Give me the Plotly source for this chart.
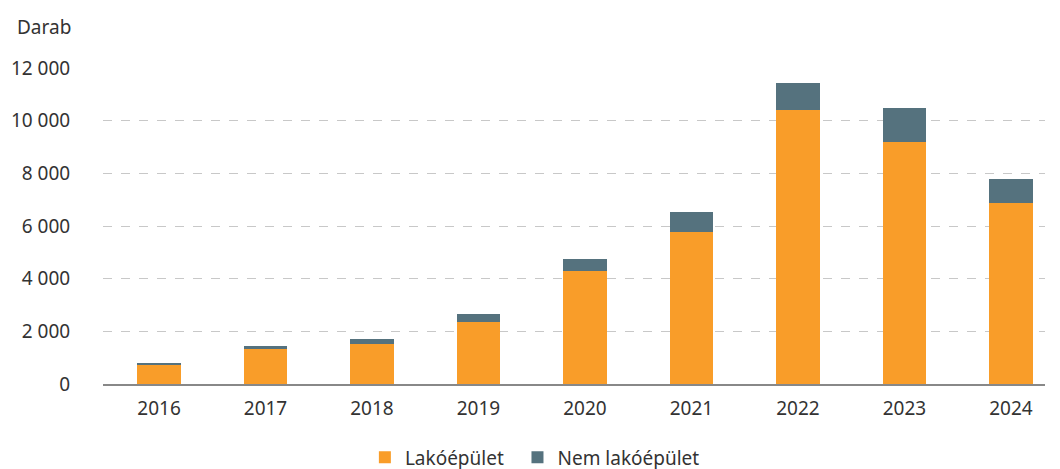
import plotly.graph_objects as go

years = ["2016", "2017", "2018", "2019", "2020", "2021", "2022", "2023", "2024"]
lakoepulet = [710, 1340, 1530, 2360, 4290, 5770, 10400, 9200, 6890]
nem_lakoepulet = [90, 100, 170, 300, 470, 760, 1020, 1270, 900]
y_ticks = [0, 2000, 4000, 6000, 8000, 10000, 12000]
y_ticktext = ["0", "2 000", "4 000", "6 000", "8 000", "10 000", "12 000"]

ORANGE = "#F99D29"
SLATE = "#55727E"
FONT = "Noto Sans"
TXT = "#333333"

# page body has an 8px default margin, so margins are offset accordingly
fig = go.Figure()
fig.add_trace(go.Bar(x=years, y=lakoepulet, name="Lakóépület", legend="legend",
                     marker=dict(color=ORANGE, line=dict(width=0)), width=0.41))
fig.add_trace(go.Bar(x=years, y=nem_lakoepulet, name="Nem lakóépület", legend="legend2",
                     marker=dict(color=SLATE, line=dict(width=0)), width=0.41))

leg_common = dict(orientation="h", y=-0.232, yanchor="middle", xanchor="left",
                  font=dict(size=19, color=TXT), bgcolor="rgba(0,0,0,0)")

fig.update_layout(
    barmode="stack",
    width=1060, height=469,
    margin=dict(l=95, r=23, t=60, b=93, autoexpand=False),
    paper_bgcolor="white", plot_bgcolor="white",
    font=dict(family=FONT, size=19, color=TXT),
    showlegend=True,
    legend=dict(x=0.278, **leg_common),
    legend2=dict(x=0.440, **leg_common),
    xaxis=dict(type="category", range=[-0.526, 8.32], showline=True, linecolor="#888888",
               linewidth=2, ticks="outside", ticklen=6, tickcolor="rgba(0,0,0,0)",
               showgrid=False, automargin=False, tickfont=dict(size=19, color=TXT)),
    yaxis=dict(range=[0, 12000], tickvals=y_ticks, ticktext=y_ticktext,
               showgrid=True, gridcolor="#C8C8C8", griddash="dash", gridwidth=1,
               zeroline=False, showline=False, ticks="outside", ticklen=28,
               tickcolor="rgba(0,0,0,0)", automargin=False,
               tickfont=dict(size=19, color=TXT)),
    annotations=[dict(text="Darab", xref="paper", yref="paper", x=(7 - 95) / 942, y=1 + 41 / 316,
                      xanchor="left", yanchor="middle", showarrow=False,
                      font=dict(size=19, color=TXT))],
)

fig.write_html("out.html")
